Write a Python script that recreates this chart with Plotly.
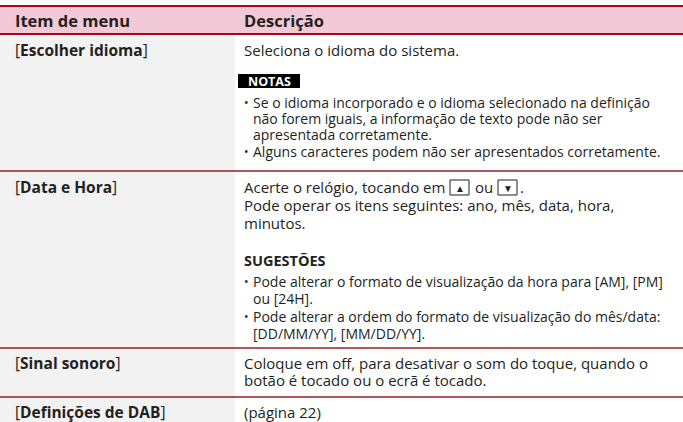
import plotly.graph_objects as go

# ---- content (data) ----
header_labels = ["Item de menu", "Descrição"]
menu_items = ["Escolher idioma", "Data e Hora", "Sinal sonoro", "Definições de DAB"]
row1_lines = ["Seleciona o idioma do sistema."]
notes_label = "NOTAS"
notes_lines = [
    ["Se o idioma incorporado e o idioma selecionado na definição",
     "não forem iguais, a informação de texto pode não ser",
     "apresentada corretamente."],
    ["Alguns caracteres podem não ser apresentados corretamente."],
]
row2_first = ["Acerte o relógio, tocando em", "ou", "."]
row2_buttons = ["▲", "▼"]
row2_lines = ["Pode operar os itens seguintes: ano, mês, data, hora,", "minutos."]
tips_label = "SUGESTÕES"
tips_lines = [
    ["Pode alterar o formato de visualização da hora para [AM], [PM]", "ou [24H]."],
    ["Pode alterar a ordem do formato de visualização do mês/data:", "[DD/MM/YY], [MM/DD/YY]."],
]
row3_lines = ["Coloque em off, para desativar o som do toque, quando o",
              "botão é tocado ou o ecrã é tocado."]
row4_lines = ["(página 22)"]

# ---- layout constants ----
W, H = 683, 422
FONT = "Open Sans"
FS_MAIN = 15
FS_NOTE = 14
FS_ITEM = 15.5
FS_HEAD = 16.5
TXT = "#231f20"
RED_HEAD = "#b3001b"
RED = "#9e1b22"
PINK = "#f2c9d6"
GRAY = "#f2f2f2"
COL_SPLIT = 235
X1, X2 = 13, 242
header_top, header_bot = 6, 34
row_lines_y = [171, 348, 397]

fig = go.Figure()
shapes = []
ann = []

def text(x, y, s, bold=False, size=FS_MAIN, color=TXT, anchor="left", **kw):
    ann.append(dict(x=x, y=y, xref="x", yref="y", text=(f"<b>{s}</b>" if bold else s),
                    showarrow=False, xanchor=anchor, yanchor="middle",
                    font=dict(family=FONT, size=size, color=color), **kw))

# backgrounds
shapes.append(dict(type="rect", x0=0, x1=W, y0=header_top, y1=header_bot, fillcolor=PINK, line_width=0, layer="below"))
shapes.append(dict(type="rect", x0=0, x1=COL_SPLIT, y0=header_bot, y1=H, fillcolor=GRAY, line_width=0, layer="below"))
for y in (header_top, header_bot):
    shapes.append(dict(type="line", x0=0, x1=W, y0=y, y1=y, line=dict(color=RED_HEAD, width=2)))
for y in row_lines_y:
    shapes.append(dict(type="line", x0=0, x1=W, y0=y, y1=y, line=dict(color=RED, width=1.4)))

# header text
text(X1, 20, header_labels[0], bold=True, size=FS_HEAD)
text(X2, 20, header_labels[1], bold=True, size=FS_HEAD)

# menu items
item_y = [50, 187, 363, 412]
for name, y in zip(menu_items, item_y):
    text(X1, y, f"[<b>{name}</b>]", size=FS_ITEM)

# row 1
text(X2, 50, row1_lines[0])
shapes.append(dict(type="rect", x0=X2 - 4, x1=X2 + 58, y0=74, y1=88, fillcolor="#000000", line_width=0))
text(X2 + 4, 81, notes_label, bold=True, size=12.5, color="#ffffff")
note_y = [102, 118, 134, 151]
k = 0
for bullet in notes_lines:
    for i, line in enumerate(bullet):
        if i == 0:
            text(X2, note_y[k], "•", size=FS_NOTE - 2)
        text(X2 + 9, note_y[k], line, size=FS_NOTE)
        k += 1

# row 2
text(X2, 187, row2_first[0])
bx1, bx2, bw = 450, 498, 19
for bx, sym in zip((bx1, bx2), row2_buttons):
    shapes.append(dict(type="rect", x0=bx, x1=bx + bw, y0=180, y1=195,
                       line=dict(color=TXT, width=1), fillcolor="rgba(0,0,0,0)"))
    text(bx + bw / 2, 188, sym, size=10, anchor="center")
text(bx1 + bw + 4, 187, row2_first[1])
text(bx2 + bw + 1, 187, row2_first[2])
for line, y in zip(row2_lines, [205, 223]):
    text(X2, y, line)
text(X2, 260, tips_label, bold=True, size=FS_MAIN - 0.5)
tip_y = [281, 298, 316, 333]
k = 0
for bullet in tips_lines:
    for i, line in enumerate(bullet):
        if i == 0:
            text(X2, tip_y[k], "•", size=FS_NOTE - 2)
        text(X2 + 9, tip_y[k], line, size=FS_NOTE)
        k += 1

# row 3
for line, y in zip(row3_lines, [363, 380]):
    text(X2, y, line)

# row 4
text(X2, 412, row4_lines[0])

fig.update_layout(
    width=W, height=H, margin=dict(l=0, r=0, t=0, b=0),
    paper_bgcolor="#ffffff", plot_bgcolor="#ffffff",
    xaxis=dict(range=[0, W], visible=False, fixedrange=True),
    yaxis=dict(range=[H, 0], visible=False, fixedrange=True),
    shapes=shapes, annotations=ann, showlegend=False,
)
fig.write_html("out.html", config={"displayModeBar": False},
               post_script="document.body.style.margin='0';document.body.style.overflow='hidden';")
